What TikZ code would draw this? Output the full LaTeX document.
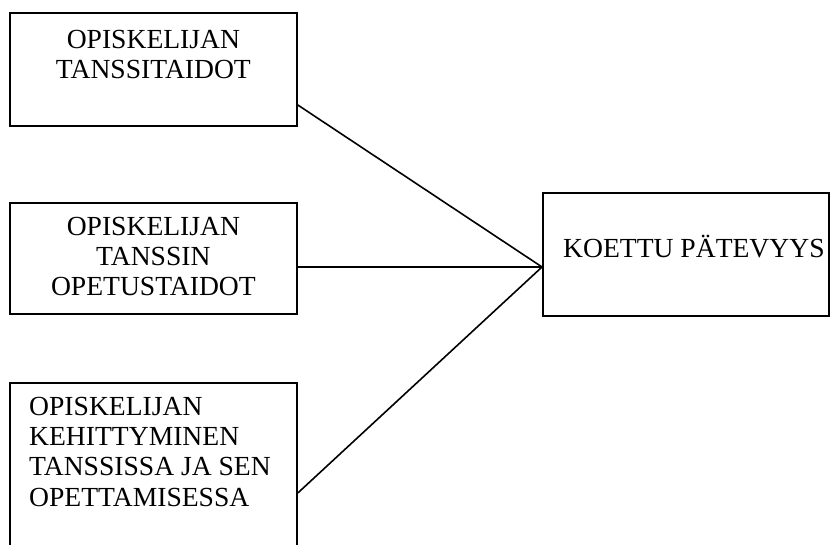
\documentclass[tikz,border=0pt]{standalone}
\usepackage{fontspec}
\setmainfont{Liberation Serif}
\begin{document}
\begin{tikzpicture}[x=1pt,y=-1pt,
  box/.style={draw,line width=1.8pt,inner sep=0pt,anchor=north west},
  txt/.style={inner sep=0pt,font=\fontsize{27.6}{30.2}\selectfont},
  conn/.style={line width=1.6pt}]
\useasboundingbox (0,0) rectangle (832,545);
\clip (0,0) rectangle (832,545);
\node[box,minimum width=287pt,minimum height=113pt] (b1) at (9,12) {};
\node[box,minimum width=287pt,minimum height=111pt] (b2) at (9,202) {};
\node[box,minimum width=287pt,minimum height=200pt] (b3) at (9,382) {};
\node[box,minimum width=286pt,minimum height=123pt] (r) at (542,192) {};
\node[txt,align=center,anchor=north] (t1) at ([yshift=-18pt]b1.north) {OPISKELIJAN\\TANSSITAIDOT};
\node[txt,align=center,anchor=north] (t2) at ([yshift=-15pt]b2.north) {OPISKELIJAN\\TANSSIN\\OPETUSTAIDOT};
\node[txt,align=left,anchor=north west] (t3) at ([xshift=20pt,yshift=-15pt]b3.north west) {OPISKELIJAN\\KEHITTYMINEN\\TANSSISSA JA SEN\\OPETTAMISESSA};
\node[txt,anchor=base west] (t4) at ([xshift=21pt,yshift=-66pt]r.north west) {KOETTU PÄTEVYYS};
\coordinate (k) at ([yshift=-75pt]r.north west);
\draw[conn] ([yshift=-93pt]b1.north east) -- (k);
\draw[conn] ([yshift=-65pt]b2.north east) -- (k);
\draw[conn] ([yshift=-111pt]b3.north east) -- (k);
\end{tikzpicture}
\end{document}
